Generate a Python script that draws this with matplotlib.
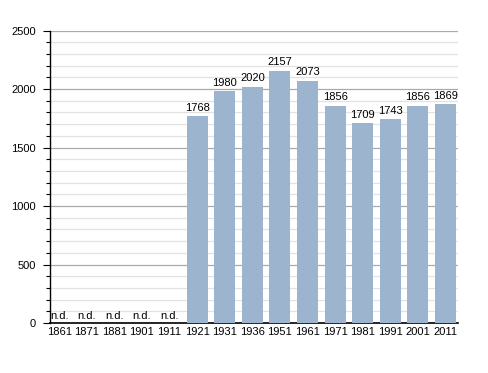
import numpy as np
import matplotlib.pyplot as plt
from matplotlib.ticker import MultipleLocator

plt.rcParams['font.family'] = ['Liberation Sans', 'DejaVu Sans']

# census years and population (None = no data)
years = ['1861', '1871', '1881', '1901', '1911', '1921', '1931', '1936',
         '1951', '1961', '1971', '1981', '1991', '2001', '2011']
population = [None, None, None, None, None, 1768, 1980, 2020,
              2157, 2073, 1856, 1709, 1743, 1856, 1869]

fig = plt.figure(figsize=(4.88, 3.73), dpi=100)
ax = fig.add_axes([0.1025, 0.134, 0.836, 0.784])

x = np.arange(len(years))
vals = [v if v is not None else 0 for v in population]
ax.bar(x, vals, width=0.76, color='#9db4cf', zorder=3)

# labels above bars
for xi, v in zip(x, population):
    if v is None:
        ax.text(xi, 20, 'n.d.', ha='center', va='bottom', fontsize=8, zorder=4)
    else:
        ax.text(xi, v + 30, str(v), ha='center', va='bottom', fontsize=8, zorder=4)

# grid
ax.set_ylim(0, 2500)
ax.set_xlim(-0.33, len(years) - 0.55)
ax.yaxis.set_major_locator(MultipleLocator(500))
ax.yaxis.set_minor_locator(MultipleLocator(100))
ax.grid(axis='y', which='major', color='#aaaaaa', linewidth=0.9, zorder=1)
ax.grid(axis='y', which='minor', color='#e2e2e2', linewidth=0.9, zorder=1)

ax.set_xticks(x)
ax.set_xticklabels(years, fontsize=8)
ax.tick_params(axis='x', length=0, pad=3)
ax.tick_params(axis='y', which='major', length=5, width=0.8, labelsize=8, pad=5)
ax.tick_params(axis='y', which='minor', length=3, width=0.8)

for s in ['top', 'right']:
    ax.spines[s].set_visible(False)
ax.spines['left'].set_linewidth(1.0)
ax.spines['bottom'].set_linewidth(1.2)

fig.savefig('out.png', dpi=100)
